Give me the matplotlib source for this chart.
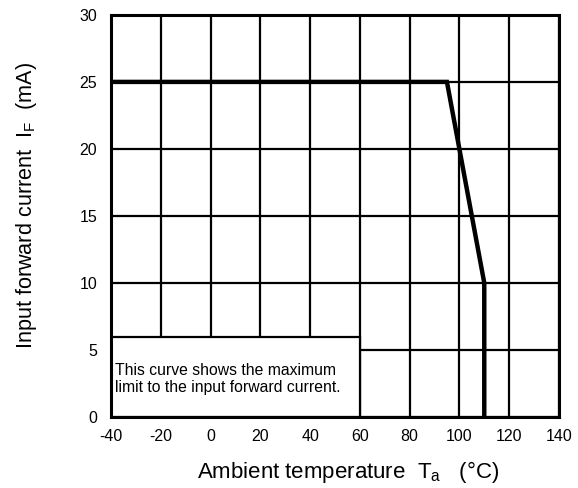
import matplotlib
matplotlib.use("Agg")
import matplotlib.pyplot as plt
from matplotlib.patches import Rectangle

plt.rcParams['font.family'] = ['Liberation Sans', 'DejaVu Sans']
plt.rcParams['mathtext.fontset'] = 'custom'
plt.rcParams['mathtext.rm'] = 'Liberation Sans'
plt.rcParams['axes.unicode_minus'] = False

# Derating curve: maximum input forward current vs. ambient temperature
temp_c = [-40, 95, 110, 110]
current_ma = [25, 25, 10, 0]

x_ticks = [-40, -20, 0, 20, 40, 60, 80, 100, 120, 140]
y_ticks = [0, 5, 10, 15, 20, 25, 30]

note_text = "This curve shows the maximum\nlimit to the input forward current."
note_box_x = [-40, 60]
note_box_y = [0, 6]

fig = plt.figure(figsize=(5.78, 4.88), dpi=100)
ax = fig.add_axes([0.192, 0.1455, 0.775, 0.824])

ax.set_xlim(x_ticks[0], x_ticks[-1])
ax.set_ylim(y_ticks[0], y_ticks[-1])
ax.set_xticks(x_ticks)
ax.set_yticks(y_ticks)
ax.tick_params(length=0, labelsize=11.5)
ax.tick_params(axis='x', pad=9)
ax.tick_params(axis='y', pad=10)

ax.grid(True, color='black', linewidth=1.6, zorder=1)
ax.set_axisbelow(True)
for sp in ax.spines.values():
    sp.set_linewidth(2.2)

# Note box covering the grid in the lower-left corner
ax.add_patch(Rectangle((note_box_x[0], note_box_y[0]),
                       note_box_x[1] - note_box_x[0],
                       note_box_y[1] - note_box_y[0],
                       facecolor='white', edgecolor='black',
                       linewidth=1.6, zorder=2))
ax.text(note_box_x[0] + 1.6, 2.85, note_text, fontsize=11.3,
        va='center', ha='left', linespacing=1.18, zorder=3)

ax.plot(temp_c, current_ma, color='black', linewidth=3.2,
        solid_joinstyle='miter', zorder=4)

ax.set_xlabel(r'Ambient temperature  T$_\mathregular{a}$   (°C)', fontsize=16)
ax.xaxis.set_label_coords(0.53, -0.105)
ax.set_ylabel(r'Input forward current  I$_\mathregular{F}$  (mA)', fontsize=15.6)
ax.yaxis.set_label_coords(-0.161, 0.527)

fig.savefig('out.png', dpi=100)
